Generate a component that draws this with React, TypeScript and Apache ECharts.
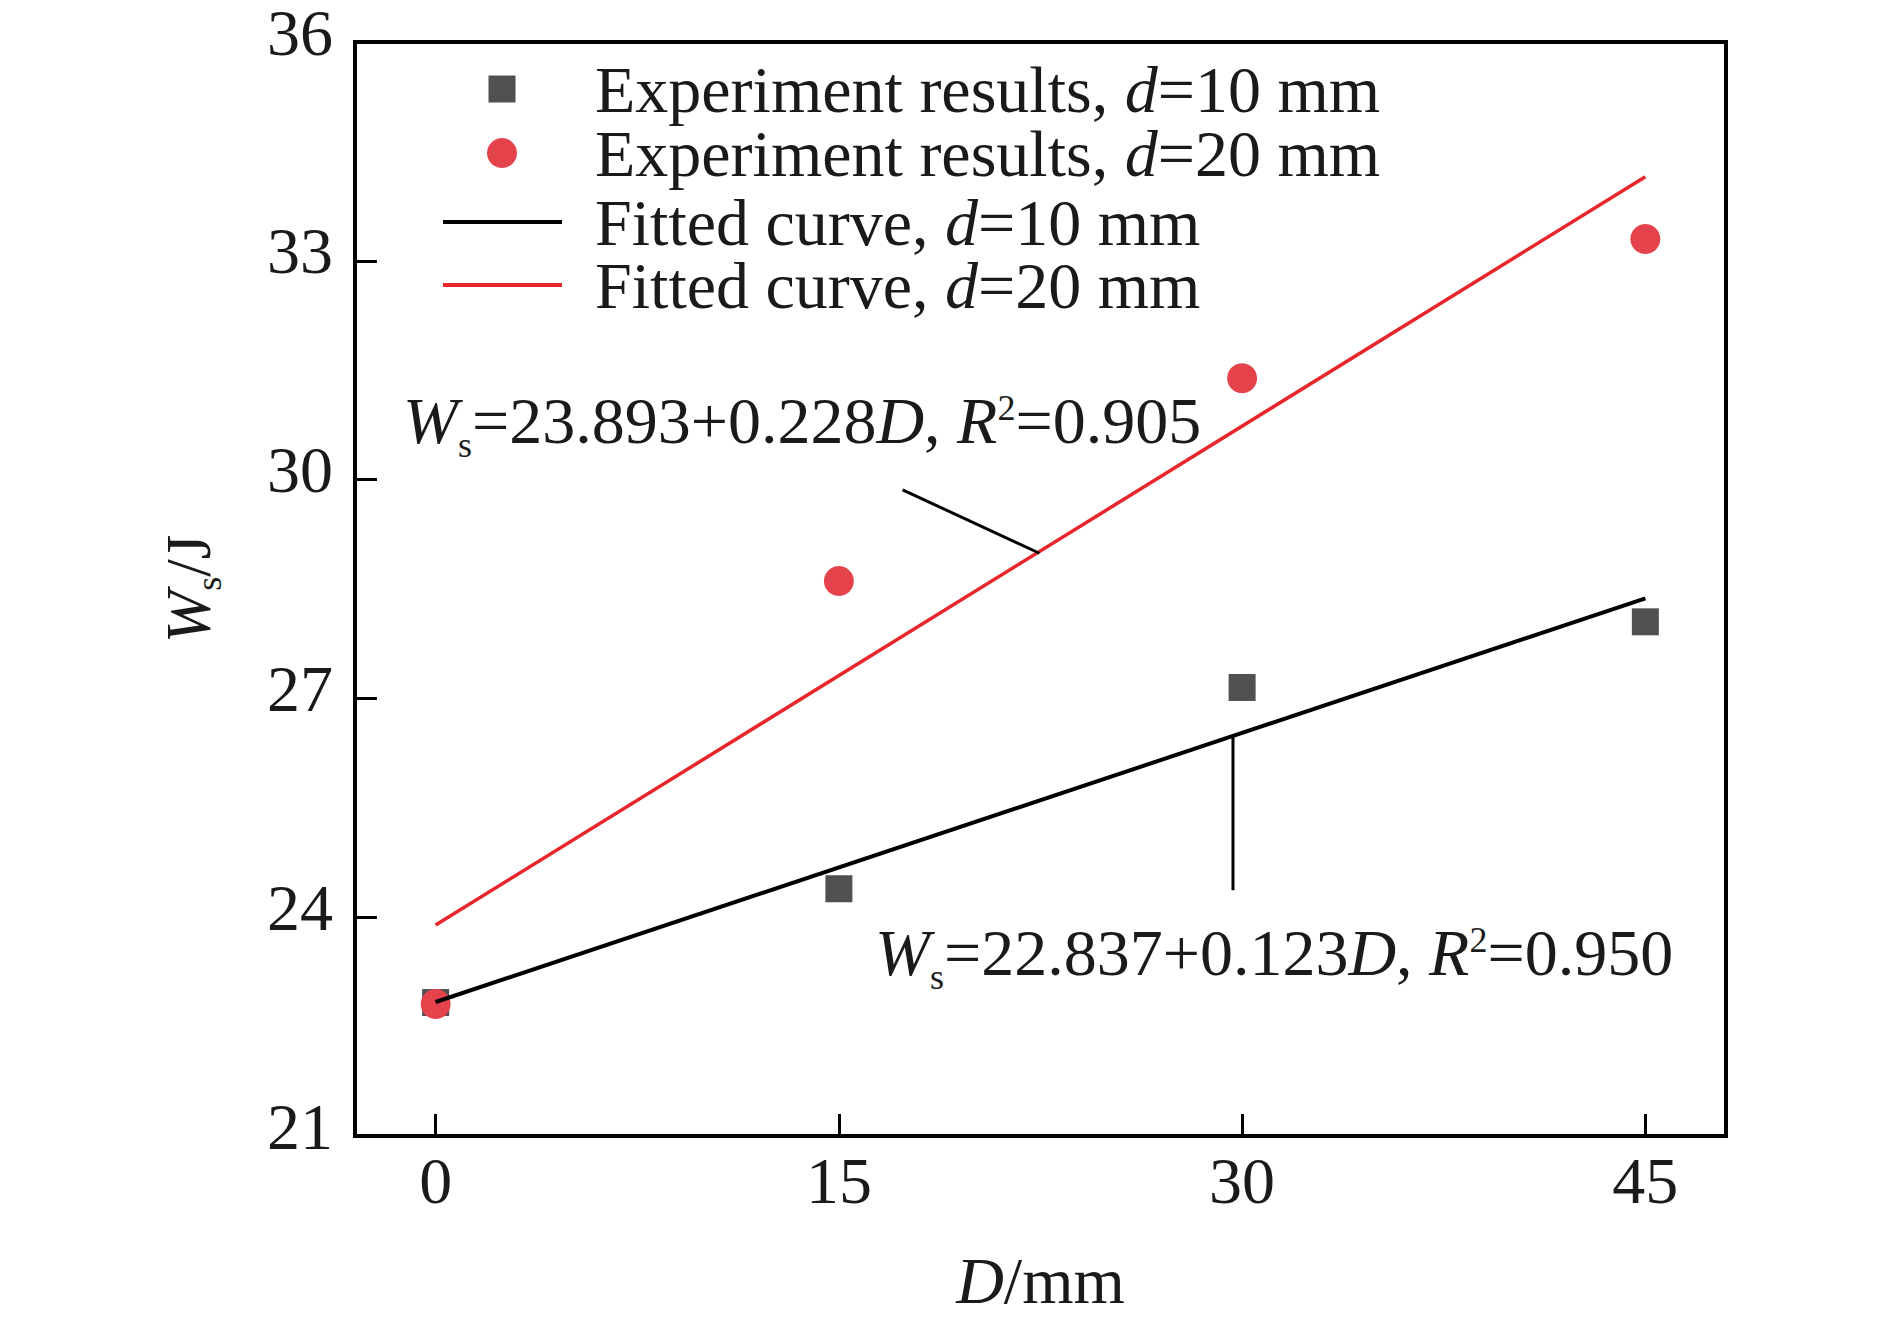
import React, { useEffect, useRef } from "react";
import * as echarts from "echarts";

const FONT = "'Liberation Serif', 'Times New Roman', serif";

const xTickValues = [0, 15, 30, 45];
const seriesNames = [
  "Experiment results, d=10 mm",
  "Experiment results, d=20 mm",
  "Fitted curve, d=10 mm",
  "Fitted curve, d=20 mm",
];
const expD10 = [
  [0, 22.83],
  [15, 24.39],
  [30, 27.15],
  [45, 28.05],
];
const expD20 = [
  [0, 22.81],
  [15, 28.61],
  [30, 31.39],
  [45, 33.3],
];
const fitD10 = [
  [0, 22.837],
  [45, 28.372],
];
const fitD20 = [
  [0, 23.893],
  [45, 34.153],
];
const leaderD20 = [
  [17.37, 29.86],
  [22.46, 28.99],
];
const leaderD10 = [
  [29.66, 26.47],
  [29.66, 24.37],
];
const fitLabels = [
  "{i|W}{sub|s}=23.893+0.228{i|D}, {i|R}{sup|2}=0.905",
  "{i|W}{sub|s}=22.837+0.123{i|D}, {i|R}{sup|2}=0.950",
];

const TEXT = "#1a1a1a";

const richStyles = {
  i: { fontStyle: "italic", fontFamily: FONT, fontSize: 66, fill: TEXT, color: TEXT },
  sub: { fontFamily: FONT, fontSize: 36, padding: [50, 0, 0, 0], fill: TEXT, color: TEXT },
  sup: { fontFamily: FONT, fontSize: 36, padding: [0, 0, 24, 0], fill: TEXT, color: TEXT },
};

function makeLegend(
  name: string,
  centerX: number,
  centerY: number,
  itemWidth: number,
  itemHeight: number,
  textLeft: number,
  icon?: string
) {
  const left = centerX - itemWidth / 2;
  const pad = textLeft - (left + itemWidth + 5);
  return {
    show: true,
    left,
    top: centerY - 37,
    padding: 0,
    orient: "vertical",
    itemWidth,
    itemHeight,
    data: [icon ? { name, icon } : name],
    selectedMode: false,
    formatter: (n: string) => n.replace("d=", "{i|d}="),
    textStyle: {
      fontFamily: FONT,
      fontSize: 66,
      color: TEXT,
      padding: [0, 0, 0, pad],
      rich: {
        i: { fontStyle: "italic", fontFamily: FONT, fontSize: 66, color: TEXT },
      },
    },
  };
}

export default function App() {
  const ref = useRef<HTMLDivElement>(null);
  useEffect(() => {
    if (!ref.current) return;
    const chart = echarts.init(ref.current, undefined, { renderer: "svg" });
    const lineIcon = "path://M0 0H119V4H0Z";
    const option = {
      animation: false,
      backgroundColor: "#ffffff",
      grid: {
        left: 355,
        right: 164,
        top: 42,
        bottom: 189,
        containLabel: false,
        outerBoundsMode: "none",
        show: true,
        borderColor: "#000",
        borderWidth: 4,
        backgroundColor: "transparent",
      },
      legend: [
        makeLegend(seriesNames[0], 502, 93, 27, 27, 595),
        makeLegend(seriesNames[1], 502, 157, 30, 30, 595),
        makeLegend(seriesNames[2], 502.5, 226, 119, 30, 595, lineIcon),
        makeLegend(seriesNames[3], 502.5, 289, 119, 30, 595, lineIcon),
      ],
      xAxis: {
        type: "value",
        min: -3,
        max: 48,
        name: "{i|D}/mm",
        nameLocation: "middle",
        nameGap: 111,
        nameTextStyle: {
          fontFamily: FONT,
          fontSize: 66,
          color: TEXT,
          rich: { i: { fontStyle: "italic", fontFamily: FONT, fontSize: 66, color: TEXT } },
        },
        splitLine: { show: false },
        axisLine: { show: true, onZero: false, lineStyle: { color: "#000", width: 4 } },
        axisTick: {
          show: true,
          inside: true,
          length: 22,
          customValues: xTickValues,
          lineStyle: { color: "#000", width: 3 },
        },
        axisLabel: {
          customValues: xTickValues,
          margin: 11,
          fontFamily: FONT,
          fontSize: 66,
          color: TEXT,
        },
      },
      yAxis: {
        type: "value",
        min: 21,
        max: 36,
        interval: 3,
        name: "{i|W}{sub|s}/J",
        nameLocation: "middle",
        nameGap: 128,
        nameTextStyle: {
          fontFamily: FONT,
          fontSize: 63,
          color: TEXT,
          rich: {
            i: { fontStyle: "italic", fontFamily: FONT, fontSize: 63, color: TEXT },
            sub: { fontFamily: FONT, fontSize: 36, padding: [40, 0, 0, 0], color: TEXT },
          },
        },
        splitLine: { show: false },
        axisLine: { show: true, onZero: false, lineStyle: { color: "#000", width: 4 } },
        axisTick: { show: true, inside: true, length: 22, lineStyle: { color: "#000", width: 3 } },
        axisLabel: {
          margin: 22,
          fontFamily: FONT,
          fontSize: 66,
          color: TEXT,
          padding: [0, 0, 20, 0],
          formatter: (v: number) => (v === 36 ? `{top|${v}}` : `${v}`),
          rich: {
            top: { fontFamily: FONT, fontSize: 66, color: TEXT, padding: [0, 0, 0, 0] },
          },
        },
      },
      series: [
        {
          name: seriesNames[0],
          type: "scatter",
          symbol: "rect",
          symbolSize: 27,
          itemStyle: { color: "#505052", opacity: 1 },
          data: expD10,
          z: 2,
        },
        {
          name: seriesNames[1],
          type: "scatter",
          symbol: "circle",
          symbolSize: 30,
          itemStyle: { color: "#e5434b", opacity: 1 },
          data: expD20,
          z: 3,
        },
        {
          name: seriesNames[2],
          type: "line",
          symbol: "none",
          lineStyle: { color: "#000", width: 4 },
          itemStyle: { color: "#000" },
          data: fitD10,
          z: 4,
        },
        {
          name: seriesNames[3],
          type: "line",
          symbol: "none",
          lineStyle: { color: "#e8262c", width: 3.5 },
          itemStyle: { color: "#e8262c" },
          data: fitD20,
          z: 4,
        },
        {
          name: "leader-d20",
          type: "line",
          symbol: "none",
          silent: true,
          lineStyle: { color: "#000", width: 3 },
          data: leaderD20,
          z: 4,
        },
        {
          name: "leader-d10",
          type: "line",
          symbol: "none",
          silent: true,
          lineStyle: { color: "#000", width: 3 },
          data: leaderD10,
          z: 4,
        },
      ],
      graphic: [
        {
          type: "text",
          x: 403,
          y: 420,
          z: 10,
          style: {
            text: fitLabels[0],
            fontFamily: FONT,
            fontSize: 66,
            fill: TEXT,
            verticalAlign: "middle",
            align: "left",
            rich: richStyles,
          },
        },
        {
          type: "text",
          x: 875,
          y: 952,
          z: 10,
          style: {
            text: fitLabels[1],
            fontFamily: FONT,
            fontSize: 66,
            fill: TEXT,
            verticalAlign: "middle",
            align: "left",
            rich: richStyles,
          },
        },
      ],
    };
    chart.setOption(option as any);
    return () => chart.dispose();
  }, []);
  return (
    <div
      ref={ref}
      style={{ position: "absolute", left: 0, top: 0, width: 1890, height: 1325, background: "#fff" }}
    />
  );
}
